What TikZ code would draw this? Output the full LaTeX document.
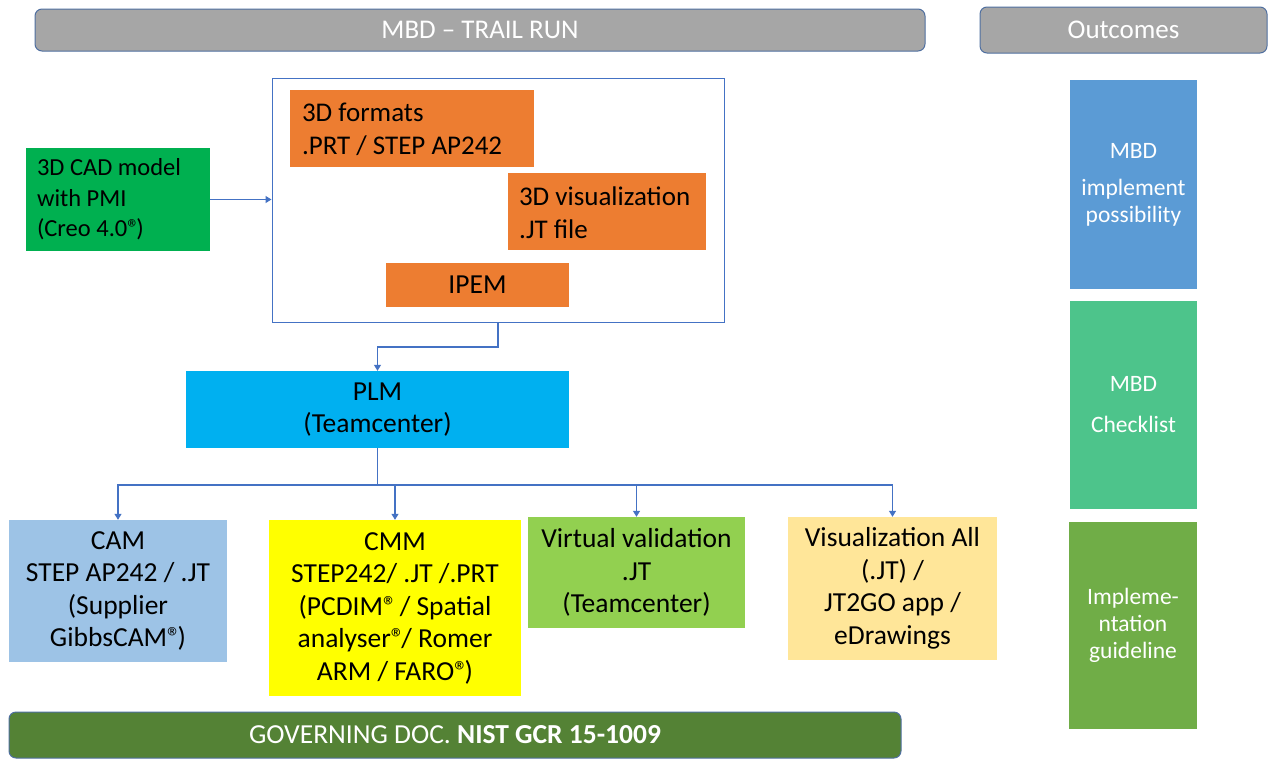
\documentclass[tikz,border=0pt]{standalone}
\usepackage{fontspec}
\setmainfont{Carlito}
\usetikzlibrary{arrows.meta}
\newcommand{\regmark}{®\kern-3.5pt}
\definecolor{hdrgray}{HTML}{A6A6A6}
\definecolor{hdredge}{HTML}{4F6FA0}
\definecolor{linkblue}{HTML}{4472C4}
\definecolor{orng}{HTML}{ED7D31}
\definecolor{cadgreen}{HTML}{00B050}
\definecolor{plmblue}{HTML}{00B0F0}
\definecolor{camblue}{HTML}{9DC3E6}
\definecolor{cmmyellow}{HTML}{FFFF00}
\definecolor{virtgreen}{HTML}{92D050}
\definecolor{visyellow}{HTML}{FFE699}
\definecolor{govgreen}{HTML}{548235}
\definecolor{ocblue}{HTML}{5B9BD5}
\definecolor{octeal}{HTML}{4DC48B}
\definecolor{ocgreen}{HTML}{70AD47}
\begin{document}
\begin{tikzpicture}[x=1pt,y=-1pt,
  fillbox/.style={draw=none, inner sep=0pt, align=flush center, text=black,
    font=\fontsize{27.5}{32.5}\selectfont},
  lefttext/.style={inner sep=0pt, anchor=west, align=flush left, text=black,
    font=\fontsize{27}{33}\selectfont},
  hdr/.style={draw=hdredge, line width=1pt, fill=hdrgray, rounded corners=7pt,
    inner sep=0pt, text=white, font=\fontsize{27}{30}\selectfont},
  ocbox/.style={draw=none, inner sep=0pt, align=flush center, text=white,
    minimum width=127pt, font=\fontsize{23.5}{27}\selectfont},
  conn/.style={draw=linkblue, line width=1.2pt, -{Triangle[width=7pt,length=6pt]}},
  plain/.style={draw=linkblue, line width=1.2pt}
]
\useasboundingbox (0,0) rectangle (1269,758);
\fill[white] (0,0) rectangle (1269,758);

% headers
\node[hdr, minimum width=890pt, minimum height=42pt] (top) at (480,30) {MBD -- TRAIL RUN};
\node[hdr, minimum width=287pt, minimum height=46pt] (outc) at (1123.5,30) {Outcomes};

% outcomes
\node[ocbox, fill=ocblue, minimum height=209pt] (oc1) at (1133.5,184.5) {MBD\\[10pt]implement\\possibility};
\node[ocbox, fill=octeal, minimum height=208pt] (oc2) at (1133.5,405) {MBD\\[14pt]Checklist};
\node[ocbox, fill=ocgreen, minimum width=128pt, minimum height=207pt] (oc3) at (1133,625.5) {Impleme-\\ntation\\guideline};

% big container
\node[draw=linkblue, line width=1pt, fill=white, minimum width=452pt, minimum height=244pt, inner sep=0pt] (big) at (498,200) {};
\node[fillbox, fill=orng, minimum width=244pt, minimum height=77pt] (fmt) at (412,128.5) {};
\node[lefttext] (fmtt) at ([xshift=12pt,yshift=-1pt]fmt.west) {3D formats\\.PRT / STEP AP242};
\node[fillbox, fill=orng, minimum width=198pt, minimum height=77pt] (vis3d) at (607,211.5) {};
\node[lefttext] (vis3dt) at ([xshift=11pt,yshift=-1pt]vis3d.west) {3D visualization\\.JT file};
\node[fillbox, fill=orng, minimum width=183pt, minimum height=44pt] (ipem) at (477.5,285) {IPEM};

% CAD
\node[fillbox, fill=cadgreen, minimum width=184pt, minimum height=103pt] (cad) at (118,199.5) {};
\node[lefttext, font=\fontsize{24.5}{30.5}\selectfont] (cadt) at ([xshift=11pt]cad.west) {3D CAD model\\with PMI\\(Creo 4.0\regmark)};

% PLM
\node[fillbox, fill=plmblue, minimum width=383pt, minimum height=77pt] (plm) at (377.5,409.5) {PLM\\(Teamcenter)};

% bottom row
\node[fillbox, fill=camblue, minimum width=218pt, minimum height=142pt] (cam) at (118,591) {CAM\\STEP AP242 / .JT\\(Supplier\\GibbsCAM\regmark)};
\node[fillbox, fill=cmmyellow, minimum width=252pt, minimum height=176pt] (cmm) at (395,608) {CMM\\STEP242/ .JT /.PRT\\(PCDIM\regmark{} / Spatial\\analyser\regmark/ Romer\\ARM / FARO\regmark)};
\node[fillbox, fill=virtgreen, minimum width=217pt, minimum height=111pt] (virt) at (636.5,572.5) {Virtual validation\\.JT\\(Teamcenter)};
\node[fillbox, fill=visyellow, minimum width=209pt, minimum height=143pt] (visall) at (892.5,588.5) {Visualization All\\(.JT) /\\JT2GO app /\\eDrawings};

% governing bar
\node[draw=hdredge, line width=1pt, fill=govgreen, rounded corners=7pt, inner sep=0pt,
  minimum width=892pt, minimum height=46pt, text=white, font=\fontsize{27.5}{30}\selectfont] (gov) at (455,735) {GOVERNING DOC. \textbf{NIST GCR 15-1009}};

% connectors
\coordinate (mid1) at (498,347);
\coordinate (bus) at (377.5,485);
\draw[conn] (cad.east) -- (cad.east -| big.west);
\draw[conn] (big.south) -- (mid1) -| (plm.north);
\draw[plain] (plm.south) -- (bus);
\draw[conn] (bus) -| (cam.north);
\draw[conn] (bus) -| (cmm.north);
\draw[conn] (bus) -| (virt.north);
\draw[conn] (bus) -| (visall.north);
\end{tikzpicture}
\end{document}
